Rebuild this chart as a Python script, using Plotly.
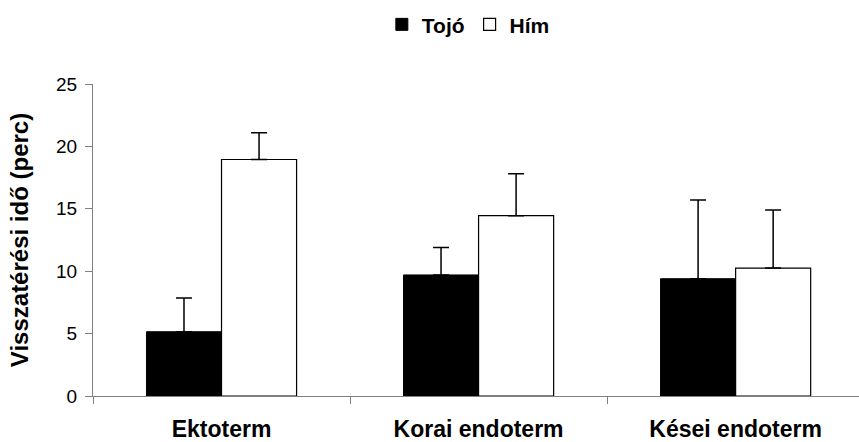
import plotly.graph_objects as go

categories = ["Ektoterm", "Korai endoterm", "Kései endoterm"]
tojo_values = [5.15, 9.7, 9.4]
tojo_errors = [2.7, 2.2, 6.3]
him_values = [18.95, 14.45, 10.25]
him_errors = [2.15, 3.35, 4.65]
y_ticks = [0, 5, 10, 15, 20, 25]

FONT = "Liberation Sans, Arial, sans-serif"

fig = go.Figure()
fig.add_trace(go.Bar(
    name="Tojó", x=categories, y=tojo_values,
    marker=dict(color="black", line=dict(color="black", width=1)),
    error_y=dict(type="data", array=tojo_errors, arrayminus=[0] * len(tojo_errors),
                 symmetric=False, color="black", thickness=1.5, width=8),
))
fig.add_trace(go.Bar(
    name="Hím", x=categories, y=him_values,
    marker=dict(color="white", line=dict(color="black", width=1.2)),
    error_y=dict(type="data", array=him_errors, arrayminus=[0] * len(him_errors),
                 symmetric=False, color="black", thickness=1.5, width=8),
))

fig.update_layout(
    width=859, height=442,
    margin=dict(l=93, r=0, t=84, b=46),
    paper_bgcolor="white", plot_bgcolor="white",
    barmode="group", bargap=0.416, bargroupgap=0,
    font=dict(family=FONT, color="black"),
    showlegend=True,
    legend=dict(
        orientation="h", x=0.49, xanchor="center", y=1.19, yanchor="middle",
        font=dict(family=FONT, size=21, color="black", weight="bold"),
        itemwidth=30, tracegroupgap=0,
    ),
    xaxis=dict(
        range=[-0.5, 2.48], showline=True, linecolor="#808080", linewidth=1,
        ticks="outside", tickson="boundaries", ticklen=7, tickcolor="#808080",
        tickfont=dict(family=FONT, size=23, color="black", weight="bold"),
        ticklabelstandoff=12, showgrid=False, zeroline=False,
    ),
    yaxis=dict(
        range=[0, 25], tickvals=y_ticks, showline=True, linecolor="#808080",
        linewidth=1, ticks="outside", ticklen=7, tickcolor="#808080",
        tickfont=dict(family=FONT, size=19, color="black"),
        ticklabelstandoff=4,
        showgrid=False, zeroline=False,
        title=dict(text="Visszatérési idő (perc)",
                   font=dict(family=FONT, size=24, color="black", weight="bold"),
                   standoff=20),
    ),
)

fig.write_html("out.html")
